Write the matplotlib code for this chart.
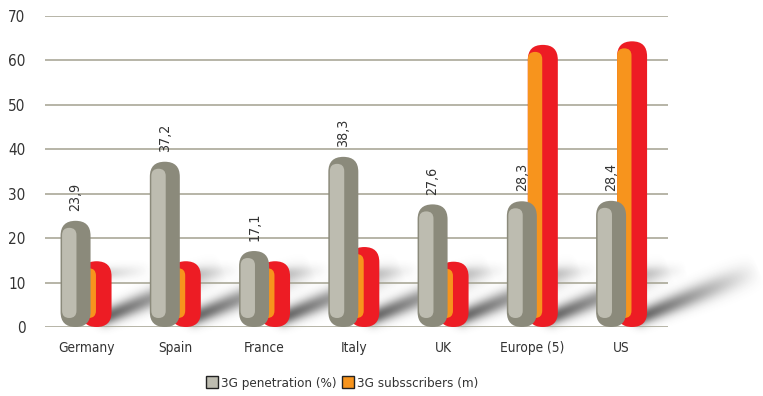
import numpy as np
import matplotlib.pyplot as plt
from matplotlib.patches import FancyBboxPatch, Patch
from matplotlib.transforms import IdentityTransform

plt.rcParams['font.family'] = ['DejaVu Sans']
plt.rcParams['font.stretch'] = 'condensed'

countries = ["Germany", "Spain", "France", "Italy", "UK", "Europe (5)", "US"]
penetration = [23.9, 37.2, 17.1, 38.3, 27.6, 28.3, 28.4]   # 3G penetration (%)
subscribers = [14.8, 14.8, 14.8, 18.0, 14.7, 63.5, 64.3]   # 3G subscribers (m)
yticks = [0, 10, 20, 30, 40, 50, 60, 70]

GREY_DARK = '#8b8a7b'
GREY_LIGHT = '#bdbcb0'
RED = '#ed1c24'
ORANGE = '#f7941d'
GRID = '#a3a18f'

W, H = 763, 396
fig = plt.figure(figsize=(W / 100, H / 100), dpi=100)
ax = fig.add_axes([45 / W, 1 - 327 / H, 623 / W, 311 / H])
ax.set_xlim(-0.46, 6.52)
ax.set_ylim(0, 70)

for s in ax.spines.values():
    s.set_visible(False)
ax.set_yticks(yticks)
ax.set_yticklabels([str(v) for v in yticks], fontsize=11, color='#333333')
ax.set_xticks(range(len(countries)))
ax.set_xticklabels(countries, fontsize=9.8, color='#333333')
ax.tick_params(length=0)
ax.tick_params(axis='y', pad=14)
ax.tick_params(axis='x', pad=10)
ax.grid(axis='y', color=GRID, linewidth=1.1)
ax.set_axisbelow(True)

bar_w = 0.336      # bar width in data units
offset = 0.1176    # half distance between the two bars of a group


def to_px(x, y):
    return ax.transData.transform((x, y))


def capsule(x0, y0, w, h, color, z):
    p = FancyBboxPatch((x0, y0), w, h,
                       boxstyle="round,pad=0,rounding_size=%f" % (min(w, h) / 2),
                       transform=IdentityTransform(), fc=color, ec='none',
                       zorder=z, clip_on=False)
    ax.add_patch(p)


def draw_bar(xc, value, outer, inner, z, inset):
    left, base = to_px(xc - bar_w / 2, 0)
    right, top = to_px(xc + bar_w / 2, value)
    w = right - left
    capsule(left, base, w, top - base, outer, z)
    capsule(left + inset, base + 9, w * 0.48, top - base - 16, inner, z + 0.1)


# soft shadows cast to the right of each group
yy, xx = np.mgrid[0:H, 0:W]
px_x = xx + 0.5
px_y = (H - 1 - yy) + 0.5
keep = np.ones((H, W))


def streak(sx, sy, ex, ey, s0, s1, a0, p=0.8):
    dx, dy = ex - sx, ey - sy
    t = ((px_x - sx) * dx + (px_y - sy) * dy) / (dx * dx + dy * dy)
    t = np.clip(t, 0, 1)
    d = np.hypot(px_x - (sx + t * dx), px_y - (sy + t * dy))
    sig = s0 + (s1 - s0) * t
    return a0 * np.exp(-(d / sig) ** 2) * (1 - t) ** p


for i in range(len(countries)):
    rx, base = to_px(i + offset + bar_w / 2, 0)
    keep *= 1 - streak(rx - 6, base + 10, rx + 112, base + 58, 8, 12, 0.78, 0.9)
    keep *= 1 - streak(rx - 12, base + 53, rx + 40, base + 57, 6, 7, 0.24, 1.0)

shadow = np.zeros((H, W, 4))
shadow[..., :3] = 0.22
shadow[..., 3] = 1 - keep
(fx0, fy0) = ax.transData.inverted().transform((0, 0))
(fx1, fy1) = ax.transData.inverted().transform((W, H))
ax.imshow(shadow, extent=(fx0, fx1, fy0, fy1), origin='upper',
          aspect='auto', zorder=0.2, clip_on=False, interpolation='bilinear')
ax.set_xlim(-0.46, 6.52)
ax.set_ylim(0, 70)

for i in range(len(countries)):
    draw_bar(i + offset, subscribers[i], RED, ORANGE, 2, 0)
    draw_bar(i - offset, penetration[i], GREY_DARK, GREY_LIGHT, 3, 1.5)
    ax.text(i - offset, penetration[i] + 2.2, ('%.1f' % penetration[i]).replace('.', ','),
            rotation=90, ha='center', va='bottom', fontsize=10.2, color='#333333')

handles = [Patch(fc=GREY_LIGHT, ec='#222222', lw=1.0, label='3G penetration (%)'),
           Patch(fc=ORANGE, ec='#222222', lw=1.0, label='3G subsscribers (m)')]
fig.legend(handles=handles, loc='center', bbox_to_anchor=(342 / W, 1 - 383 / H),
           ncol=2, frameon=False, fontsize=9.6, handlelength=0.9, handleheight=0.9,
           handletextpad=0.25, columnspacing=0.4, labelcolor='#333333')

fig.savefig('out.png', dpi=100)
